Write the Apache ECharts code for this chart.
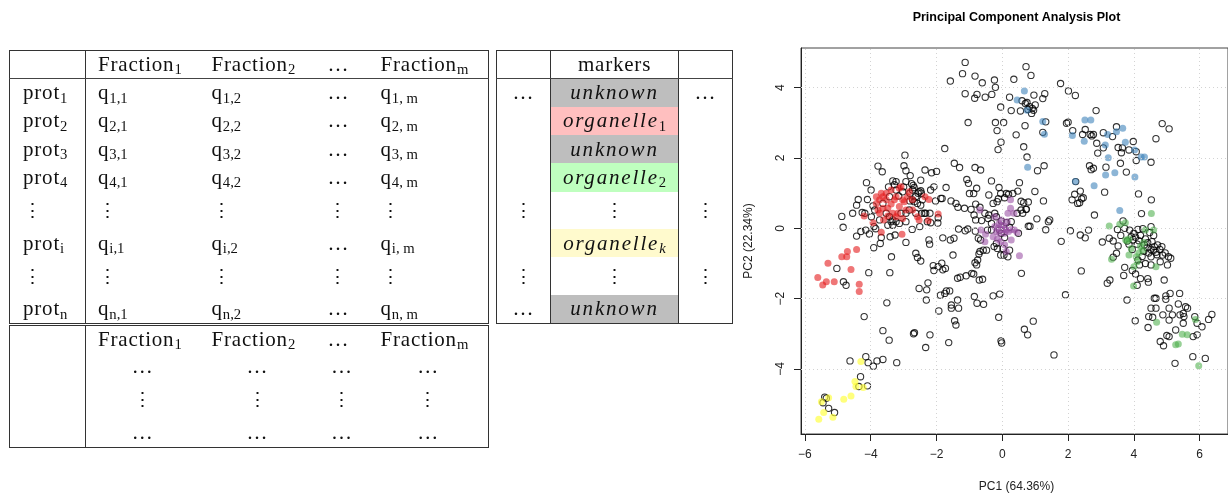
<!DOCTYPE html>
<html><head><meta charset="utf-8">
<script src="https://cdn.jsdelivr.net/npm/echarts@6/dist/echarts.min.js"></script>
<style>
html,body{margin:0;padding:0;background:#fff;width:1228px;height:495px;overflow:hidden;}
#chart{position:absolute;left:0;top:0;width:1228px;height:495px;}
.tb{position:absolute;border-collapse:collapse;table-layout:fixed;font-family:"Liberation Serif","DejaVu Serif",serif;font-size:21px;color:#111;border:1px solid #333;letter-spacing:0.8px;}
.tb td{padding:0 0 0 12px;white-space:nowrap;vertical-align:middle;line-height:1;overflow:visible;}
.tb td.c0{padding-left:13px;border-right:1px solid #333;}
.tb tr.hd td{border-bottom:1px solid #444;}
.s{font-size:70%;position:relative;top:0.22em;line-height:0;letter-spacing:0;}
.tb.ctr td{text-align:center;padding:0;}
.tb.ctr td.br{border-right:1px solid #333;}
.it{font-style:italic;letter-spacing:1.8px;}
.g{background:#bebebe;} .p{background:#ffbfbf;} .gr{background:#bfffbf;} .y{background:#fffacd;}
.vd{font-family:"DejaVu Serif",serif;font-size:19px;}
</style></head>
<body>
<div id="chart"></div>

<table class="tb" style="left:9px;top:50px;width:479px;">
<colgroup><col style="width:76px"><col style="width:114px"><col style="width:116px"><col style="width:53px"><col style="width:120px"></colgroup>
<tr class="hd" style="height:28px"><td class="c0"></td><td>Fraction<span class="s">1</span></td><td>Fraction<span class="s">2</span></td><td>…</td><td>Fraction<span class="s">m</span></td></tr>
<tr style="height:28.3px"><td class="c0">prot<span class="s">1</span></td><td>q<span class="s">1,1</span></td><td>q<span class="s">1,2</span></td><td>…</td><td>q<span class="s">1, m</span></td></tr>
<tr style="height:28.3px"><td class="c0">prot<span class="s">2</span></td><td>q<span class="s">2,1</span></td><td>q<span class="s">2,2</span></td><td>…</td><td>q<span class="s">2, m</span></td></tr>
<tr style="height:28.3px"><td class="c0">prot<span class="s">3</span></td><td>q<span class="s">3,1</span></td><td>q<span class="s">3,2</span></td><td>…</td><td>q<span class="s">3, m</span></td></tr>
<tr style="height:28.3px"><td class="c0">prot<span class="s">4</span></td><td>q<span class="s">4,1</span></td><td>q<span class="s">4,2</span></td><td>…</td><td>q<span class="s">4, m</span></td></tr>
<tr style="height:37.5px"><td class="c0 vd">⋮</td><td class="vd">⋮</td><td class="vd">⋮</td><td class="vd">⋮</td><td class="vd">⋮</td></tr>
<tr style="height:28.3px"><td class="c0">prot<span class="s">i</span></td><td>q<span class="s">i,1</span></td><td>q<span class="s">i,2</span></td><td>…</td><td>q<span class="s">i, m</span></td></tr>
<tr style="height:37.5px"><td class="c0 vd">⋮</td><td class="vd">⋮</td><td class="vd">⋮</td><td class="vd">⋮</td><td class="vd">⋮</td></tr>
<tr style="height:28.3px"><td class="c0">prot<span class="s">n</span></td><td>q<span class="s">n,1</span></td><td>q<span class="s">n,2</span></td><td>…</td><td>q<span class="s">n, m</span></td></tr>
</table>

<table class="tb ctr" style="left:496px;top:50px;width:237px;">
<colgroup><col style="width:54px"><col style="width:128px"><col style="width:54px"></colgroup>
<tr class="hd" style="height:28px"><td class="br"></td><td class="br">markers</td><td></td></tr>
<tr style="height:28.3px"><td class="br">…</td><td class="br g it">unknown</td><td>…</td></tr>
<tr style="height:28.3px"><td class="br"></td><td class="br p it">organelle<span class="s" style="font-style:normal">1</span></td><td></td></tr>
<tr style="height:28.3px"><td class="br"></td><td class="br g it">unknown</td><td></td></tr>
<tr style="height:28.3px"><td class="br"></td><td class="br gr it">organelle<span class="s" style="font-style:normal">2</span></td><td></td></tr>
<tr style="height:37.5px"><td class="br vd">⋮</td><td class="br vd">⋮</td><td class="vd">⋮</td></tr>
<tr style="height:28.3px"><td class="br"></td><td class="br y it">organelle<span class="s">k</span></td><td></td></tr>
<tr style="height:37.5px"><td class="br vd">⋮</td><td class="br vd">⋮</td><td class="vd">⋮</td></tr>
<tr style="height:28.3px"><td class="br">…</td><td class="br g it">unknown</td><td></td></tr>
</table>

<table class="tb" style="left:9px;top:325px;width:479px;">
<colgroup><col style="width:76px"><col style="width:114px"><col style="width:116px"><col style="width:53px"><col style="width:120px"></colgroup>
<tr style="height:27px"><td class="c0"></td><td>Fraction<span class="s">1</span></td><td>Fraction<span class="s">2</span></td><td>…</td><td>Fraction<span class="s">m</span></td></tr>
<tr style="height:28px"><td class="c0"></td><td style="text-align:center;padding:0">…</td><td style="text-align:center;padding:0">…</td><td style="text-align:center;padding:0">…</td><td style="text-align:center;padding:0">…</td></tr>
<tr style="height:37.5px"><td class="c0 vd"></td><td class="vd" style="text-align:center;padding:0">⋮</td><td class="vd" style="text-align:center;padding:0">⋮</td><td class="vd" style="text-align:center;padding:0">⋮</td><td class="vd" style="text-align:center;padding:0">⋮</td></tr>
<tr style="height:29.5px"><td class="c0"></td><td style="text-align:center;padding:0">…</td><td style="text-align:center;padding:0">…</td><td style="text-align:center;padding:0">…</td><td style="text-align:center;padding:0">…</td></tr>
</table>

<script>
// ---------- data ----------
const chartTitle = 'Principal Component Analysis Plot';
const xAxisName = 'PC1 (64.36%)';
const yAxisName = 'PC2 (22.34%)';
const xTicks = [-6, -4, -2, 0, 2, 4, 6];
const yTicks = [-4, -2, 0, 2, 4];

const unknownPts = [
[-1.13,4.72],[0.72,4.60],[-1.21,4.40],[-0.83,4.33],[0.87,4.35],[-1.58,4.19],[-0.61,4.14],[-0.24,4.22],[0.35,4.24],[-0.21,4.01],[1.77,4.12],[2.01,3.91],[2.22,3.78],[-1.13,3.83],[-0.77,3.81],[-0.84,3.70],[-0.52,3.73],[-0.32,3.81],[0.22,3.73],[0.60,3.63],[0.75,3.58],[0.96,3.79],[1.29,3.83],[1.23,3.69],[0.70,3.55],[0.83,3.46],[0.91,3.41],[0.95,3.36],[0.89,3.27],[1.00,3.51],[0.78,3.38],[-0.05,3.45],[0.27,3.35],[0.55,3.34],[-1.04,3.01],[-0.21,3.01],[0.04,3.01],[0.69,2.92],[1.32,3.03],[1.23,2.73],[-0.16,2.78],[0.42,2.66],[-0.04,2.45],[0.65,2.32],[-0.13,2.24],[0.75,2.03],[1.27,1.78],[1.07,1.64],[-1.75,2.27],
[1.95,2.99],[2.00,3.02],[2.14,2.78],[2.85,3.35],[2.52,2.81],[2.44,2.67],[2.67,2.67],[2.72,2.63],[2.77,2.67],[2.87,2.42],[3.07,2.72],[3.35,2.61],[3.47,2.89],[3.07,2.29],[2.90,2.14],[3.52,2.30],[3.65,2.29],[3.62,2.15],[3.85,2.23],[3.98,2.47],[4.07,2.18],[4.07,1.93],[4.52,1.88],[4.67,2.55],[4.86,2.98],[5.07,2.83],[2.65,1.78],[2.70,1.67],[2.77,1.71],[3.15,1.74],[3.59,1.85],[3.77,1.60],[2.23,1.33],[3.11,1.03],[4.14,0.98],[2.20,0.97],[2.37,1.06],[2.41,0.84],[2.12,0.81],[2.29,0.71],[2.35,0.73],[2.46,0.87],[2.80,0.38],[4.53,0.81],[4.23,0.42],
[3.67,0.21],[3.50,-0.03],[3.72,0.00],[3.87,-0.05],[4.00,-0.14],[4.12,-0.03],[4.27,-0.01],[4.52,0.05],[3.04,-0.39],[3.25,-0.28],[3.37,-0.36],[3.52,-0.50],[3.47,-0.71],[3.37,-0.82],[3.80,-0.36],[3.92,-0.24],[3.97,-0.33],[4.12,-0.90],[4.17,-1.04],[4.32,-0.47],[4.42,-0.41],[4.55,-0.38],[4.52,-0.60],[4.62,-0.52],[4.72,-0.47],[4.79,-0.60],[4.67,-0.68],[4.87,-0.76],[4.85,-0.52],[4.52,-0.81],[4.52,-1.04],[5.05,-0.81],[5.12,-0.85],[5.02,-1.04],[3.72,-1.11],[3.95,-1.20],[3.69,-1.34],[4.20,-1.43],[4.42,-1.43],[4.44,-1.53],[4.92,-1.47],[4.10,-1.62],[3.27,-1.47],[3.19,-1.56],[3.79,-2.04],[2.40,-1.21],[2.07,-0.07],[2.37,-0.19],[2.52,-0.27],[2.62,-0.05],[1.79,-0.37],[1.92,-1.89],[1.32,-0.04],[1.40,0.19],[1.44,0.24],
[4.05,-0.25],[4.15,-0.35],[4.10,-0.45],[4.20,-0.20],[4.35,-0.30],[4.40,-0.55],[4.30,-0.65],[4.45,-0.70],[4.60,-0.62],[4.70,-0.75],[4.25,-0.80],[4.35,-1.00],[4.60,-0.20],[4.48,-0.12],[3.85,-0.45],[3.60,-0.20],[3.95,-0.60],[4.05,-1.30],[4.80,-0.95],[4.95,-0.70],
[4.62,-1.99],[4.67,-1.99],[4.97,-1.92],[4.97,-2.02],[5.10,-1.85],[5.39,-1.85],[4.52,-2.27],[4.67,-2.27],[4.57,-2.53],[4.45,-2.51],[4.88,-2.46],[5.07,-2.27],[5.07,-2.61],[5.17,-2.46],[5.35,-2.15],[5.40,-2.46],[5.50,-2.42],[5.57,-2.23],[5.63,-2.27],[5.50,-2.70],[5.52,-2.51],[5.92,-2.70],[5.85,-2.51],[4.04,-2.63],[4.43,-2.82],[5.00,-3.05],[5.07,-3.08],[5.27,-2.89],[5.80,-3.08],[5.92,-3.03],[6.07,-2.80],[6.27,-2.59],[6.37,-2.45],[4.80,-3.22],[4.90,-3.34],[5.25,-3.84],[5.79,-3.65],[6.17,-3.70],
[-2.96,2.08],[-3.78,1.77],[-3.65,1.61],[-2.99,1.78],[-2.93,1.64],[-2.80,1.50],[-2.35,1.66],[-2.15,1.58],[-2.00,1.62],[-2.48,1.37],[-3.33,1.35],[-3.23,1.33],[-3.28,1.24],[-4.13,1.30],[-3.99,1.09],[-2.76,1.27],[-2.71,1.22],[-3.00,1.18],[-2.08,1.18],[-2.18,1.09],[-1.71,1.16],[-2.48,1.07],[-2.56,1.00],[-1.87,0.85],[-1.83,0.85],[-2.03,0.78],[-4.38,0.82],[-4.10,0.82],[-4.43,0.66],[-3.93,0.64],[-4.18,0.43],[-4.26,0.45],[-4.88,0.34],[-4.55,0.43],[-4.84,0.03],[-4.43,-0.22],[-4.30,-0.09],[-4.15,-0.05],[-4.04,-0.16],[-3.90,0.05],[-3.85,-0.01],[-3.91,-0.55],[-3.71,-0.43],[-3.68,-0.26],[-3.41,-0.24],[-3.26,-0.19],[-3.37,-0.81],[-2.93,-0.40],[-2.74,-0.03],[-2.51,0.05],[-2.18,0.16],[-2.28,0.19],[-1.96,0.15],[-1.95,0.30],[-2.20,0.43],[-2.37,0.43],[-2.45,0.43],[-2.83,0.52],
[-3.53,0.43],[-3.43,0.33],[-3.33,0.24],[-3.23,0.19],[-3.38,0.19],[-3.13,0.14],[-2.93,0.19],[-2.73,0.81],[-2.68,0.76],[-2.63,0.90],[-2.53,1.04],[-2.46,1.00],[-2.43,0.81],[-2.73,1.09],[-2.81,1.00],[-3.03,1.04],[-3.23,1.09],[-3.43,0.90],[-3.63,0.71],[-3.73,0.24],[-3.88,0.52],[-3.98,0.33],[-3.48,0.09],[-3.33,0.09],[-3.08,0.43],[-2.93,0.43],[-2.58,0.71],[-2.33,0.43],[-2.48,0.66],[-2.63,0.43],[-2.81,0.78],[-3.46,1.18],[-3.15,0.92],[-2.68,1.16],[-2.93,1.33],
[-5.03,-1.14],[-4.83,-1.52],[-4.75,-1.62],[-4.06,-1.26],[-3.42,-1.26],[-3.51,-2.12],[-4.20,-2.51],[-3.63,-2.91],[-3.44,-3.18],[-4.15,-3.65],[-4.63,-3.77],[-4.08,-3.82],[-3.92,-3.92],[-3.81,-3.77],[-3.63,-3.73],[-3.21,-3.82],[-4.31,-4.22],[-4.36,-4.50],[-4.10,-4.48],[-5.40,-4.80],[-5.35,-4.83],[-5.45,-4.96],[-5.28,-5.12],[-5.10,-5.24],
[-1.46,1.85],[-1.30,1.73],[-0.83,1.73],[-0.66,1.66],[-1.08,1.39],[-1.03,1.28],[-0.33,1.35],[-1.00,0.99],[-0.78,1.14],[-0.87,0.99],[-0.10,1.16],[-0.05,0.99],[-0.41,0.95],[-0.12,0.84],[0.12,0.99],[0.19,0.97],[0.32,0.99],[0.47,1.06],[0.52,1.30],[-0.16,0.76],[-0.28,0.71],[0.07,0.87],[-1.56,0.78],[-1.41,0.71],[-1.35,0.60],[-1.15,0.57],[-0.95,0.54],[-0.81,0.69],[-0.68,0.60],[-0.53,0.43],[-0.41,0.38],[-0.86,0.38],[-0.81,0.24],[-0.63,0.22],[-0.43,0.28],[-0.33,0.14],[-0.23,0.43],[0.57,0.77],[0.65,0.73],[0.79,0.75],[0.72,0.54],[0.62,0.43],[0.99,1.05],[1.25,0.78],[1.05,0.27],[0.79,0.06],[0.84,0.06],[-1.05,-0.02],[-1.33,-0.02],[-1.13,-0.07],[-1.47,-0.28],[-1.58,-0.33],[-0.82,-0.08],[-0.73,-0.28],[-0.66,-0.33],[-0.48,-0.62],[-0.58,-0.62],[-0.25,-0.52],[-0.15,-0.57],[-0.05,-0.76],[-0.68,-0.66],[-0.71,-0.73],[-0.75,-0.90],[-0.83,-0.98],[-0.78,-1.04],[-0.93,-1.28],[-0.87,-1.30],[-0.70,-1.47],[-0.60,-1.45],[-1.50,-0.76],[-2.63,-0.71],[-2.58,-0.83],[-2.48,-0.93],[-2.23,-0.33],[-2.21,-0.45],[-1.81,-0.27],[-2.10,-1.06],[-1.95,-1.09],[-1.84,-0.99],[-1.73,-1.14],[-1.81,-1.18],[-2.08,-1.20],[-2.26,-1.55],[-2.53,-1.71],[-2.30,-1.75],[-1.88,-1.90],[-1.75,-1.85],[-1.70,-1.78],[-1.60,-1.78],[-1.93,-2.35],[-2.31,-2.04],[-1.36,-1.42],[-1.28,-1.39],[-1.10,-1.35],[-0.85,-1.94],[-0.77,-2.13],[-0.57,-2.16],[-1.36,-2.04],[-1.55,-2.18],[-1.55,-2.27],[-1.33,-2.27],[-1.45,-2.63],[-1.41,-2.75],[-0.28,-1.92],[-0.08,-1.87],[-0.11,-2.53],[-1.63,-3.25],[-2.33,-3.39],[-2.20,-3.03],[-2.70,-3.00],[-2.67,-2.97],[-0.04,-3.20],[-0.02,-3.26],[0.67,-2.87],[0.77,-3.03],[0.94,-2.64],[0.58,-1.28],[1.57,-3.60],
[-0.18,0.33],[-0.03,0.21],[0.12,0.16],[-0.08,-0.05],[0.07,-0.26],[0.22,0.03],[-0.33,-0.05],[-0.45,-0.05],[0.27,0.19],[-0.03,-0.14],[-0.18,-0.43],[0.02,-0.57],[0.22,-0.62],[0.17,-0.81],[0.05,-0.76],[0.49,-0.14],[0.45,0.43],[0.57,0.52],[0.73,0.54]
];

const markerBlue = [
[0.67,3.91],[0.45,3.65],[0.75,3.36],[1.23,3.04],[1.28,2.68],[0.77,1.74],[2.13,2.64],[2.51,3.08],[2.69,3.08],[2.49,2.48],[3.20,2.67],[3.47,2.75],[3.66,2.85],[3.13,2.37],[3.22,2.01],[3.74,2.45],[4.02,2.23],[4.22,2.03],[4.32,2.03],[3.14,1.52],[3.42,1.58],[4.03,1.46],[2.79,1.21],[2.22,1.33],[3.57,0.51]
];
const markerRed = [
[-4.43,-0.60],[-4.71,-0.66],[-4.88,-0.81],[-4.73,-0.81],[-5.30,-0.99],[-4.60,-1.17],[-5.61,-1.40],[-5.46,-1.61],[-5.35,-1.52],[-5.11,-1.52],[-4.35,-1.59],[-4.35,-1.80],[-4.20,0.35],[-3.93,0.16],[-3.68,-0.11],[-3.05,-0.17],[-2.25,0.22],[-1.95,0.41],[-2.23,0.82],
[-3.73,0.81],[-3.63,0.90],[-3.53,1.00],[-3.48,0.57],[-3.63,0.57],[-3.78,0.52],[-3.73,0.43],[-3.83,0.71],[-3.38,1.09],[-3.28,0.81],[-3.23,0.90],[-3.13,1.14],[-3.08,1.18],[-3.03,0.81],[-2.98,0.76],[-3.13,0.62],[-3.33,0.43],[-3.23,0.33],[-3.03,0.28],[-2.88,0.90],[-2.83,1.04],[-2.73,0.52],[-2.58,0.33],[-2.53,0.24],[-2.93,0.52],[-3.48,0.35],[-3.38,0.69],[-3.61,0.24],[-2.73,0.81],[-2.35,0.90],[-3.18,0.43],[-3.53,0.81],[-3.68,1.00],[-3.83,0.90]
];
const markerPurple = [
[-0.68,0.52],[-0.23,0.33],[0.25,0.81],[0.25,0.57],[0.17,0.43],[0.35,0.43],[-0.10,0.14],[-0.03,0.09],[0.07,0.05],[-0.13,0.00],[0.02,-0.05],[0.12,-0.05],[-0.23,0.05],[-0.08,-0.14],[0.07,-0.14],[0.19,-0.09],[0.27,-0.03],[-0.18,-0.09],[-0.03,0.24],[0.15,0.19],[0.37,-0.05],[0.45,-0.12],
[-0.65,-0.05],[-0.51,-0.17],[-0.53,-0.38],[-0.28,-0.24],[-0.05,-0.38],[0.07,-0.47],[0.27,-0.33],[0.12,-0.66],[0.52,-0.78],[-0.15,-0.31]
];
const markerGreen = [
[4.53,0.42],[3.25,0.07],[3.57,0.12],[3.74,0.16],[4.35,-0.05],[4.60,-0.05],[3.32,-0.88],[3.75,-0.33],[3.80,-0.36],[3.85,-0.30],[3.92,-0.57],[3.85,-0.76],[4.07,-0.81],[4.20,-0.52],[4.27,-0.62],[4.67,-1.09],[4.00,-1.09],[3.99,-1.64],[4.10,-0.95],[4.15,-0.70],[4.30,-0.40],
[5.87,-2.59],[4.69,-2.67],[5.47,-3.01],[5.62,-3.03],[5.27,-3.31],[5.35,-3.29],[5.97,-3.91]
];
const markerYellow = [
[-4.30,-3.79],[-4.48,-4.36],[-4.45,-4.50],[-4.23,-4.53],[-4.60,-4.77],[-4.82,-4.86],[-5.28,-4.82],[-5.50,-4.93],[-5.43,-5.24],[-5.15,-5.37],[-5.58,-5.43]
];

// ---------- chart ----------
const FONT = '"Liberation Sans", Arial, Helvetica, sans-serif';
const fmt = v => (v < 0 ? '\u2212' + Math.abs(v) : String(v));
const filled = (name, data, color) => ({
  name, type: 'scatter', data, symbol: 'circle', symbolSize: 7, z: 3,
  itemStyle: { color, borderWidth: 0 }, silent: true
});

const chart = echarts.init(document.getElementById('chart'));
chart.setOption({
  animation: false,
  backgroundColor: '#fff',
  grid: { left: 801, top: 48, width: 431, height: 386, show: true, borderColor: '#444', borderWidth: 1, backgroundColor: 'transparent' },
  xAxis: {
    type: 'value', min: -6.12, max: 6.86,
    axisLine: { show: true, onZero: false, lineStyle: { color: '#222', width: 1 } },
    axisTick: { show: true, length: 7, customValues: xTicks, lineStyle: { color: '#222' } },
    axisLabel: { customValues: xTicks, formatter: fmt, margin: 15, fontSize: 12, color: '#222', fontFamily: FONT },
    splitLine: { show: false }
  },
  yAxis: {
    type: 'value', min: -5.85, max: 5.13,
    axisLine: { show: true, onZero: false, lineStyle: { color: '#222', width: 1 } },
    axisTick: { show: true, length: 7, customValues: yTicks, lineStyle: { color: '#222' } },
    axisLabel: { customValues: yTicks, formatter: fmt, rotate: 90, margin: 14, fontSize: 12, color: '#222', fontFamily: FONT },
    splitLine: { show: false }
  },
  graphic: [
    { type: 'text', x: 1016.5, y: 18, silent: true,
      style: { text: chartTitle, fill: '#000', font: 'bold 12.5px ' + FONT, textAlign: 'center', textVerticalAlign: 'middle' } },
    { type: 'text', x: 1016.5, y: 487, silent: true,
      style: { text: xAxisName, fill: '#222', font: '12px ' + FONT, textAlign: 'center', textVerticalAlign: 'middle' } },
    { type: 'text', x: 749, y: 241, rotation: Math.PI / 2, silent: true,
      style: { text: yAxisName, fill: '#222', font: '12px ' + FONT, textAlign: 'center', textVerticalAlign: 'middle' } }
  ],
  series: [
    { type: 'scatter', data: [[0, 0]], symbolSize: 0, z: 1, silent: true,
      markLine: {
        silent: true, symbol: ['none', 'none'], label: { show: false }, animation: false,
        lineStyle: { color: '#d3d3d3', type: [1, 3], width: 1 },
        data: xTicks.map(v => ({ xAxis: v })).concat(yTicks.map(v => ({ yAxis: v })))
      } },
    { name: 'unknown', type: 'scatter', data: unknownPts, symbol: 'circle', symbolSize: 6.3, z: 2, silent: true,
      itemStyle: { color: 'rgba(0,0,0,0)', borderColor: '#000', borderWidth: 1.1 } },
    filled('blue', markerBlue, 'rgba(55,126,184,0.72)'),
    filled('red', markerRed, 'rgba(228,26,28,0.75)'),
    filled('purple', markerPurple, 'rgba(152,78,163,0.72)'),
    filled('green', markerGreen, 'rgba(77,175,74,0.72)'),
    filled('yellow', markerYellow, 'rgba(255,255,51,0.8)')
  ]
});
</script>
</body></html>
